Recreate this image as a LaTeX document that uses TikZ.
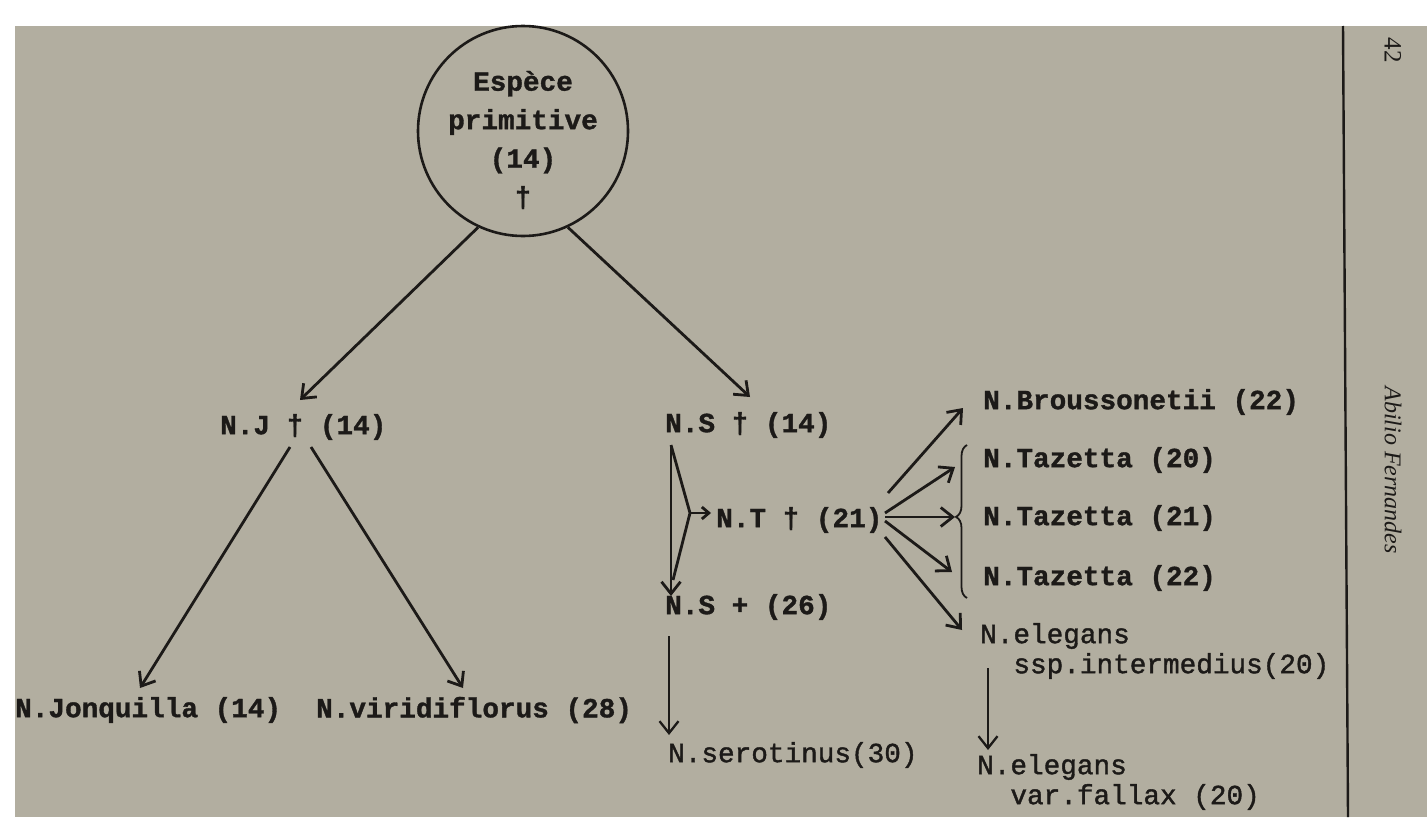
\documentclass[tikz,border=0pt]{standalone}
\usepackage{fontspec}
\setmainfont{Liberation Serif}
\newfontfamily\tw[BoldFeatures={FakeBold=1.2}]{Liberation Mono}
\newfontfamily\twm[FakeBold=1.4]{Liberation Mono}
\usetikzlibrary{arrows.meta,decorations.pathreplacing}
\definecolor{paper}{RGB}{178,174,160}
\definecolor{ink}{RGB}{28,26,24}
\begin{document}
\begin{tikzpicture}[x=1pt,y=-1pt,
  lbl/.style={anchor=west,inner sep=0pt,text=ink,font=\tw\bfseries\fontsize{27.7}{30}\selectfont},
  lblm/.style={anchor=west,inner sep=0pt,text=ink,align=left,font=\twm\fontsize{27.7}{30}\selectfont},
  conn/.style={draw=ink,line width=2.8pt},
  arr/.style={conn,-{Straight Barb[length=12pt,width=19pt]}},
  sarr/.style={conn,-{Straight Barb[length=7pt,width=12pt]}},
]
\useasboundingbox (0,0) rectangle (1427,827);
\fill[white] (0,0) rectangle (1427,827);
\fill[paper] (15,26) rectangle (1427,817);
\draw[ink,line width=2.4pt] (1343,26) -- (1348,817);

% root
\node[draw=ink,line width=2.6pt,circle,minimum size=210pt,inner sep=0pt] (root) at (523,131) {};
\node[inner sep=0pt,align=center,text=ink,font=\tw\bfseries\fontsize{27.7}{38.5}\selectfont] (rootlbl) at (523,140) {Espèce\\primitive\\(14)\\†};

% labels
\node[lbl] (NJ) at (220,427) {N.J † (14)};
\node[lbl] (NS) at (665,425) {N.S † (14)};
\node[lbl] (NT) at (716,520) {N.T † (21)};
\node[lbl] (NS2) at (665,607) {N.S + (26)};
\node[lbl] (Jon) at (15,710) {N.Jonquilla (14)};
\node[lbl] (Vir) at (316,710) {N.viridiflorus (28)};
\node[lblm] (Ser) at (668,755) {N.serotinus(30)};
\node[lbl] (Br) at (983,402) {N.Broussonetii (22)};
\node[lbl] (T20) at (983,460) {N.Tazetta (20)};
\node[lbl] (T21) at (983,518) {N.Tazetta (21)};
\node[lbl] (T22) at (983,578) {N.Tazetta (22)};
\node[lblm] (El1) at (980,651) {N.elegans\\\hphantom{ss}ssp.intermedius(20)};
\node[lblm] (El2) at (977,782) {N.elegans\\\hphantom{ss}var.fallax (20)};

\node[rotate=-90,inner sep=0pt,text=ink,font=\fontsize{25}{27}\selectfont] (page) at (1393,50) {42};
\node[rotate=-90,inner sep=0pt,text=ink,font=\itshape\fontsize{24}{26}\selectfont] (auth) at (1393,470) {Abilio Fernandes};

% connector coordinates
\coordinate (jtip) at (300,400);
\coordinate (stip) at (750,397);
\coordinate (j1) at (290,447);
\coordinate (j2) at (311,447);
\coordinate (jontip) at (140,688);
\coordinate (virtip) at (463,688);
\coordinate (s1) at (671,445);
\coordinate (s2tip) at (671,596);
\coordinate (apex) at (690,513);
\coordinate (ttip) at (711,513);
\coordinate (low) at (673,580);
\coordinate (n1) at (669,636);
\coordinate (sertip) at (669,735);
\coordinate (f1s) at (888,493);
\coordinate (f1e) at (963,408);
\coordinate (f2s) at (885,513);
\coordinate (f2e) at (955,467);
\coordinate (f3s) at (885,517);
\coordinate (f3e) at (955,517);
\coordinate (f4s) at (885,521);
\coordinate (f4e) at (952,572);
\coordinate (f5s) at (885,537);
\coordinate (f5e) at (962,630);
\coordinate (e1) at (988,668);
\coordinate (e2tip) at (988,750);
\coordinate (bb) at (967,598);
\coordinate (bt) at (967,445);

\draw[arr] (root.245) -- (jtip);
\draw[arr] (root.295) -- (stip);
\draw[arr] (j1) -- (jontip);
\draw[arr] (j2) -- (virtip);
\draw[arr] (s1) -- (s2tip);
\draw[conn,line join=miter] (s1) -- (apex) -- (low);
\draw[sarr] (apex) -- (ttip);
\draw[arr,line width=2.3pt] (n1) -- (sertip);
\draw[arr] (f1s) -- (f1e);
\draw[arr] (f2s) -- (f2e);
\draw[arr] (f3s) -- (f3e);
\draw[arr] (f4s) -- (f4e);
\draw[arr] (f5s) -- (f5e);
\draw[arr,line width=2.3pt] (e1) -- (e2tip);
\draw[draw=ink,line width=1.8pt,decorate,decoration={brace,amplitude=11pt,aspect=0.53}] (bb) -- (bt);
\end{tikzpicture}
\end{document}
